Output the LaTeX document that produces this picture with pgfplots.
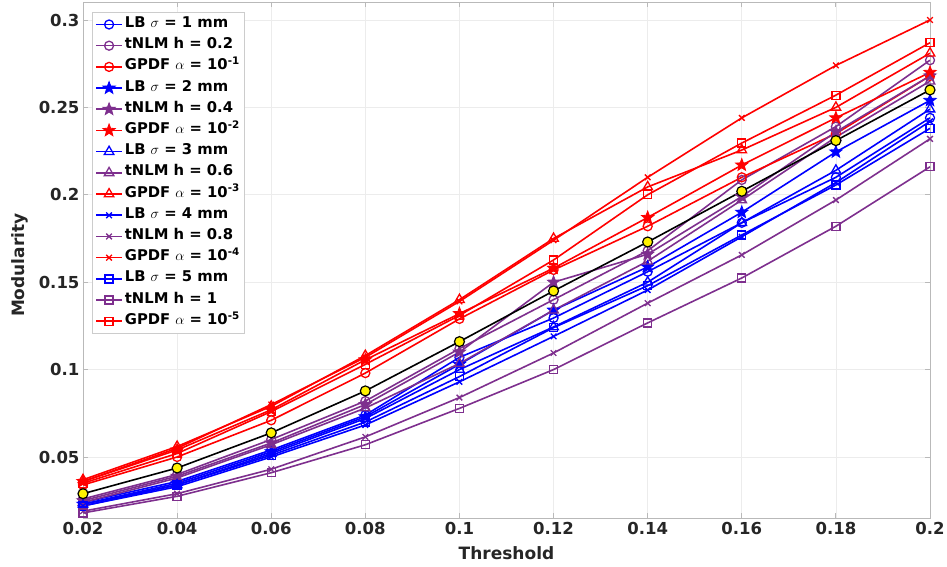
\documentclass[border=0pt]{standalone}
\usepackage{fontspec}
\setmainfont{DejaVu Sans}
\usepackage{pgfplots}
\usepackage{pgfplotstable}
\pgfplotsset{compat=1.18}
\usetikzlibrary{plotmarks}
\definecolor{mpurple}{rgb}{0.494,0.184,0.556}
\pgfdeclareplotmark{fstar}{%
  \pgfpathmoveto{\pgfpointpolar{90}{\pgfplotmarksize}}%
  \pgfpathlineto{\pgfpointpolar{126}{0.42\pgfplotmarksize}}%
  \pgfpathlineto{\pgfpointpolar{162}{\pgfplotmarksize}}%
  \pgfpathlineto{\pgfpointpolar{198}{0.42\pgfplotmarksize}}%
  \pgfpathlineto{\pgfpointpolar{234}{\pgfplotmarksize}}%
  \pgfpathlineto{\pgfpointpolar{270}{0.42\pgfplotmarksize}}%
  \pgfpathlineto{\pgfpointpolar{306}{\pgfplotmarksize}}%
  \pgfpathlineto{\pgfpointpolar{342}{0.42\pgfplotmarksize}}%
  \pgfpathlineto{\pgfpointpolar{18}{\pgfplotmarksize}}%
  \pgfpathlineto{\pgfpointpolar{54}{0.42\pgfplotmarksize}}%
  \pgfpathclose
  \pgfusepathqfillstroke
}
\pgfplotstableread{
x    blk    LBa    LBb    LBc    LBd    LBe    TNa    TNb    TNc    TNd    TNe    GPa    GPb    GPc    GPd    GPe
0.02 0.029  0.024  0.023  0.023  0.022  0.022  0.026  0.025  0.024  0.019  0.018  0.034  0.036  0.037  0.036  0.035
0.04 0.0437 0.036  0.035  0.034  0.033  0.034  0.040  0.039  0.038  0.029  0.0275 0.050  0.054  0.056  0.055  0.052
0.06 0.0638 0.054  0.053  0.052  0.050  0.051  0.060  0.058  0.057  0.043  0.041  0.071  0.077  0.079  0.080  0.076
0.08 0.0878 0.074  0.073  0.072  0.0683 0.070  0.082  0.080  0.078  0.0615 0.057  0.098  0.1056 0.108  0.107  0.103
0.10 0.116  0.107  0.103  0.100  0.093  0.096  0.112  0.110  0.1035 0.084  0.0778 0.129  0.132  0.140  0.139  0.131
0.12 0.145  0.1295 0.134  0.1244 0.119  0.124  0.140  0.150  0.134  0.1095 0.100  0.157  0.158  0.175  0.174  0.1627
0.14 0.173  0.156  0.1587 0.150  0.1455 0.148  0.168  0.166  0.162  0.138  0.1267 0.182  0.187  0.2045 0.210  0.200
0.16 0.202  0.184  0.190  0.184  0.176  0.177  0.2085 0.199  0.197  0.1656 0.1524 0.210  0.217  0.2256 0.244  0.2296
0.18 0.231  0.210  0.2245 0.214  0.207  0.2056 0.239  0.236  0.233  0.197  0.182  0.235  0.244  0.250  0.274  0.257
0.20 0.260  0.244  0.254  0.249  0.242  0.238  0.277  0.268  0.265  0.232  0.216  0.268  0.270  0.281  0.300  0.287
}\datatab
\begin{document}
\begin{tikzpicture}
\useasboundingbox (-83pt,-49pt) rectangle (864pt,518pt);
\begin{axis}[
  scale only axis,
  width=847pt, height=516pt,
  xmin=0.02, xmax=0.2, ymin=0.0151, ymax=0.3103,
  xtick={0.02,0.04,0.06,0.08,0.1,0.12,0.14,0.16,0.18,0.2},
  xticklabels={0.02,0.04,0.06,0.08,0.1,0.12,0.14,0.16,0.18,0.2},
  ytick={0.05,0.1,0.15,0.2,0.25,0.3},
  yticklabels={0.05,0.1,0.15,0.2,0.25,0.3},
  ticklabel style={font=\fontsize{16.5}{18}\selectfont\bfseries, text=black!85},
  xticklabel style={yshift=-1pt},
  grid=major,
  major grid style={gray!15, line width=0.6pt},
  axis line style={gray!55, line width=0.8pt},
  tick align=inside, major tick length=5pt,
  tick style={gray!55, line width=0.8pt},
  xlabel={\bfseries Threshold}, ylabel={\bfseries Modularity},
  label style={font=\fontsize{17}{19}\selectfont\bfseries, text=black!85},
  xlabel style={at={(axis description cs:0.5,-0.0678)}, anchor=center},
  ylabel style={at={(axis description cs:-0.0744,0.49)}, anchor=center, rotate=0},
  every axis plot/.append style={line width=1.6pt},
  legend style={at={(axis description cs:0.0106,0.981)}, anchor=north west,
    draw=gray!40, fill=white, line width=0.6pt,
    font=\fontsize{14.8}{16}\selectfont\bfseries,
    nodes={inner sep=2pt, text height=10.5pt, text depth=4.3pt},
    row sep=2.4pt, inner xsep=3pt, inner ysep=3pt},
  legend cell align=left,
  legend image code/.code={\draw[mark repeat=2,mark phase=2] plot coordinates {(0pt,0pt) (13pt,0pt) (26pt,0pt)};},
]
\addplot[blue, mark=o, mark size=4.5pt, mark options={line width=1.3pt}] table[x=x,y=LBa]{\datatab};
\addlegendentry{LB $\sigma$ = 1 mm}
\addplot[mpurple, mark=o, mark size=4.5pt, mark options={line width=1.3pt}] table[x=x,y=TNa]{\datatab};
\addlegendentry{tNLM h = 0.2}
\addplot[red, mark=o, mark size=4.5pt, mark options={line width=1.3pt}] table[x=x,y=GPa]{\datatab};
\addlegendentry{GPDF $\alpha$ = 10\textsuperscript{-1}}
\addplot[blue, mark=fstar, mark size=6.5pt, mark options={line width=0.8pt, fill=blue}] table[x=x,y=LBb]{\datatab};
\addlegendentry{LB $\sigma$ = 2 mm}
\addplot[mpurple, mark=fstar, mark size=6.5pt, mark options={line width=0.8pt, fill=mpurple}] table[x=x,y=TNb]{\datatab};
\addlegendentry{tNLM h = 0.4}
\addplot[red, mark=fstar, mark size=6.5pt, mark options={line width=0.8pt, fill=red}] table[x=x,y=GPb]{\datatab};
\addlegendentry{GPDF $\alpha$ = 10\textsuperscript{-2}}
\addplot[blue, mark=triangle, mark size=5.5pt, mark options={line width=1.3pt}] table[x=x,y=LBc]{\datatab};
\addlegendentry{LB $\sigma$ = 3 mm}
\addplot[mpurple, mark=triangle, mark size=5.5pt, mark options={line width=1.3pt}] table[x=x,y=TNc]{\datatab};
\addlegendentry{tNLM h = 0.6}
\addplot[red, mark=triangle, mark size=5.5pt, mark options={line width=1.3pt}] table[x=x,y=GPc]{\datatab};
\addlegendentry{GPDF $\alpha$ = 10\textsuperscript{-3}}
\addplot[blue, mark=x, mark size=4pt, mark options={line width=1.3pt}] table[x=x,y=LBd]{\datatab};
\addlegendentry{LB $\sigma$ = 4 mm}
\addplot[mpurple, mark=x, mark size=4pt, mark options={line width=1.3pt}] table[x=x,y=TNd]{\datatab};
\addlegendentry{tNLM h = 0.8}
\addplot[red, mark=x, mark size=4pt, mark options={line width=1.3pt}] table[x=x,y=GPd]{\datatab};
\addlegendentry{GPDF $\alpha$ = 10\textsuperscript{-4}}
\addplot[blue, mark=square, mark size=4pt, mark options={line width=1.3pt}] table[x=x,y=LBe]{\datatab};
\addlegendentry{LB $\sigma$ = 5 mm}
\addplot[mpurple, mark=square, mark size=4pt, mark options={line width=1.3pt}] table[x=x,y=TNe]{\datatab};
\addlegendentry{tNLM h = 1}
\addplot[red, mark=square, mark size=4pt, mark options={line width=1.3pt}] table[x=x,y=GPe]{\datatab};
\addlegendentry{GPDF $\alpha$ = 10\textsuperscript{-5}}
\addplot[black, line width=1.6pt, mark=*, mark size=5pt, mark options={fill=yellow, draw=black, line width=1.2pt}, forget plot] table[x=x,y=blk]{\datatab};
\end{axis}
\end{tikzpicture}
\end{document}
